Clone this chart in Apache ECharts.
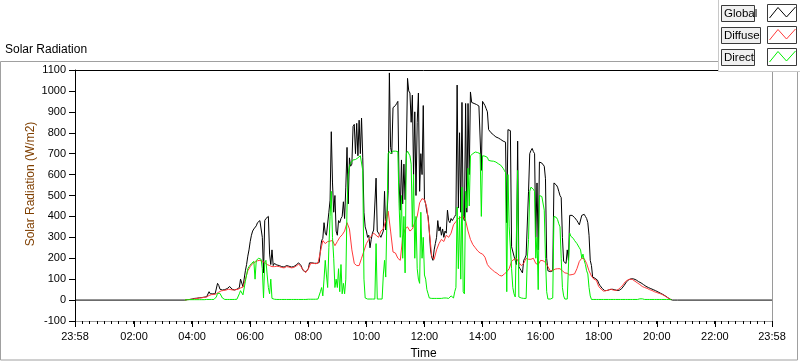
<!DOCTYPE html>
<html>
<head>
<meta charset="utf-8">
<script src="https://cdn.jsdelivr.net/npm/echarts@6/dist/echarts.min.js"></script>
<style>
html,body{margin:0;padding:0;background:#fff;}
#c{width:800px;height:361px;}
</style>
</head>
<body>
<div id="c"></div>
<script>
// Sampling: minutes after midnight of the first sample, and step per series
const START_MIN = 225;      // 03:45
const FINE_STEP = 2.5;      // Global and Direct
const DIFFUSE_STEP = 5;     // Diffuse

// Axis range and tick labels (minutes; -2 = 23:58 of the previous day)
const X_MIN = -2, X_MAX = 1438;
const xTickValues = [-2, 120, 240, 360, 480, 600, 720, 840, 960, 1080, 1200, 1320, 1438];
const yTickLabels = [-100, 0, 100, 200, 300, 400, 500, 600, 700, 800, 900, 1000, 1100];

// Global radiation (W/m2), one row per hour (2.5-minute samples), from 03:45
const globalVals = [
  0, 1, 2, 2, 3, 4,
  5, 6, 8, 8, 9, 10, 11, 11, 12, 12, 14, 15, 16, 18, 40, 30, 28, 30, 28, 30, 32, 80, 70, 52,
  50, 48, 48, 50, 52, 55, 62, 65, 58, 52, 50, 48, 50, 52, 55, 60, 100, 105, 64, 62, 140, 170, 210, 240,
  280, 310, 330, 340, 345, 355, 370, 375, 380, 383, 300, 130, 380, 390, 395, 400, 220, 170, 240, 165, 175, 170, 168, 166,
  165, 163, 160, 159, 158, 160, 165, 164, 162, 160, 158, 157, 160, 162, 168, 172, 178, 176, 165, 150, 140, 135, 134, 135,
  150, 178, 180, 178, 176, 176, 175, 176, 178, 180, 240, 285, 295, 370, 320, 310, 305, 420, 478, 805, 560, 420, 500, 330,
  310, 380, 370, 390, 400, 470, 390, 540, 730, 460, 680, 640, 650, 830, 840, 700, 845, 690, 860, 700, 870, 680, 420, 350,
  330, 300, 310, 250, 290, 320, 335, 340, 583, 330, 320, 310, 300, 305, 330, 520, 335, 400, 523, 1086, 730, 700, 920, 925,
  930, 940, 950, 560, 430, 670, 460, 650, 480, 700, 1060, 1000, 990, 850, 980, 600, 900, 500, 850, 990, 520, 700, 600, 930,
  480, 460, 420, 400, 330, 240, 205, 190, 240, 270, 300, 380, 330, 350, 310, 340, 300, 330, 320, 430, 380, 370, 390, 380,
  390, 400, 410, 1028, 440, 800, 420, 945, 400, 380, 940, 420, 940, 600, 995, 945, 945, 940, 938, 935, 930, 928, 925, 620,
  950, 955, 930, 915, 900, 815, 810, 800, 795, 790, 785, 780, 778, 775, 772, 768, 762, 760, 756, 755, 370, 815, 812, 810,
  255, 250, 210, 190, 170, 760, 160, 150, 140, 130, 190, 200, 215, 220, 520, 700, 715, 725, 710, 700, 300, 560, 240, 660,
  658, 655, 650, 640, 580, 200, 140, 138, 136, 135, 140, 560, 558, 550, 540, 520, 500, 490, 300, 185, 180, 175, 240, 190,
  405, 408, 405, 400, 395, 390, 380, 370, 360, 355, 405, 410, 410, 400, 390, 370, 310, 190, 165, 110, 108, 104, 100, 95,
  80, 70, 62, 55, 50, 45, 45, 46, 48, 50, 50, 52, 55, 50, 48, 46, 45, 47, 50, 55, 62, 70, 78, 88,
  96, 98, 100, 102, 103, 101, 100, 96, 92, 88, 85, 82, 78, 74, 68, 66, 62, 60, 58, 55, 52, 50, 48, 45,
  42, 39, 36, 33, 30, 27, 24, 20, 16, 12, 8, 4, 1, 0, 0, 0, 0, 0, 0
];

// Direct radiation (W/m2), same 2.5-minute samples
const directVals = [
  0, 1, 2, 2, 2, 2,
  2, 2, 2, 2, 2, 2, 2, 2, 2, 2, 2, 2, 3, 3, 3, 3, 3, 3, 3, 3, 15, 32, 33, 32,
  30, 10, 4, 3, 3, 3, 3, 3, 3, 3, 3, 3, 3, 4, 5, 30, 45, 40, 25, 20, 90, 120, 150, 160,
  165, 175, 180, 185, 100, 190, 195, 200, 200, 195, 150, 10, 180, 190, 120, 60, 30, 100, 8, 5, 4, 3, 3, 3,
  3, 3, 3, 3, 3, 3, 3, 3, 3, 3, 3, 3, 3, 3, 3, 3, 3, 3, 3, 3, 3, 3, 3, 3,
  4, 4, 4, 4, 4, 4, 4, 4, 5, 5, 40, 60, 20, 100, 190, 120, 60, 250, 400, 520, 300, 200, 60, 100,
  60, 150, 40, 170, 30, 80, 30, 100, 445, 600, 640, 655, 660, 670, 675, 672, 678, 680, 685, 690, 690, 620, 100, 10,
  5, 5, 5, 5, 5, 5, 5, 5, 270, 5, 5, 5, 5, 5, 120, 190, 110, 400, 700, 710, 700, 705, 712, 712,
  712, 712, 710, 460, 300, 500, 200, 400, 130, 700, 712, 710, 690, 650, 350, 600, 200, 400, 150, 100, 80, 420, 200, 300,
  120, 100, 50, 30, 10, 8, 8, 8, 8, 8, 8, 8, 8, 8, 8, 10, 10, 12, 10, 8, 8, 10, 20, 15,
  10, 40, 60, 445, 150, 400, 100, 540, 40, 30, 520, 440, 630, 450, 690, 690, 700, 705, 708, 710, 705, 700, 700, 400,
  690, 690, 688, 685, 682, 668, 666, 665, 665, 664, 662, 660, 656, 652, 648, 645, 640, 630, 620, 610, 40, 600, 350, 350,
  150, 60, 30, 15, 10, 620, 15, 10, 10, 8, 8, 8, 8, 200, 290, 520, 540, 540, 530, 520, 200, 300, 50, 500,
  500, 495, 490, 430, 200, 40, 5, 5, 5, 5, 10, 400, 400, 395, 385, 365, 350, 200, 60, 20, 5, 5, 5, 10,
  320, 305, 300, 295, 285, 280, 270, 265, 250, 240, 200, 220, 190, 170, 140, 125, 60, 20, 3, 3, 3, 3, 3, 3,
  3, 3, 3, 3, 3, 3, 3, 3, 3, 3, 3, 3, 3, 3, 3, 3, 3, 3, 3, 3, 3, 3, 3, 3,
  3, 3, 3, 3, 3, 3, 3, 3, 3, 3, 6, 10, 6, 3, 3, 3, 3, 3, 3, 3, 3, 3, 3, 3,
  3, 3, 3, 3, 3, 3, 3, 3, 3, 3, 3, 3, 2, null, null, null, null, null, null
];

// Diffuse radiation (W/m2), 5-minute samples from 03:45
const diffuseVals = [
  0, 2, 3,
  4, 6, 8, 10, 11, 13, 15, 22, 26, 27, 30, 38,
  44, 46, 48, 52, 50, 48, 50, 52, 58, 62, 100, 140,
  160, 175, 182, 188, 190, 185, 180, 170, 165, 160, 160, 162,
  160, 156, 154, 160, 158, 154, 156, 163, 172, 160, 142, 132,
  150, 176, 176, 174, 176, 230, 285, 270, 280, 282, 285, 260,
  280, 300, 312, 330, 370, 340, 240, 175, 165, 165, 200, 235,
  270, 290, 305, 320, 310, 300, 330, 340, 380, 425, 330, 230,
  225, 200, 190, 300, 340, 350, 330, 340, 370, 400, 465, 485,
  480, 440, 330, 210, 195, 240, 270, 290, 280, 310, 300, 320,
  360, 375, 390, 395, 400, 380, 330, 290, 265, 250, 235, 225,
  220, 205, 170, 155, 145, 135, 128, 118, 115, 125, 135, 150,
  185, 195, 200, 180, 165, 175, 200, 195, 195, 200, 175, 170,
  190, 188, 180, 160, 140, 142, 148, 150, 150, 140, 130, 128,
  120, 122, 125, 150, 185, 200, 198, 175, 140, 115, 100, 95,
  65, 52, 43, 45, 48, 52, 48, 46, 50, 60, 72, 88,
  96, 100, 98, 90, 82, 74, 65, 60, 56, 50, 46, 40,
  36, 32, 28, 22, 15, 7, 2, null, null, null
];

const seriesNames = ['Global', 'Diffuse', 'Direct'];
const seriesColors = ['#000000', '#ff3b3b', '#00f000'];

function toPairs(vals, step) {
  return vals.map((v, i) => [START_MIN + i * step, v]);
}
const globalData = [[X_MIN, 0]].concat(toPairs(globalVals, FINE_STEP)).concat([[X_MAX, 0]]);
const diffuseData = toPairs(diffuseVals, DIFFUSE_STEP);
const directData = toPairs(directVals, FINE_STEP);

function fmtTime(v) {
  const m = ((Math.round(v) % 1440) + 1440) % 1440;
  const h = Math.floor(m / 60), mm = m % 60;
  return String(h).padStart(2, '0') + ':' + String(mm).padStart(2, '0');
}

const FONT = '"Liberation Sans", Arial, sans-serif';
const chart = echarts.init(document.getElementById('c'), null, {renderer: 'canvas'});

const legendGraphics = [];
const boxW = [33, 39, 33];
seriesNames.forEach((name, k) => {
  const dy = k * 22;
  legendGraphics.push({
    type: 'rect', z: 101,
    shape: {x: 721.5, y: 5.5 + dy, width: boxW[k], height: 16},
    style: {fill: '#f0f0f0', stroke: '#3a3a3a', lineWidth: 1}
  });
  legendGraphics.push({
    type: 'text', z: 102, x: 724, y: 14 + dy,
    style: {text: name, font: '11.5px ' + FONT, fill: '#000', textAlign: 'left', textVerticalAlign: 'middle'}
  });
  legendGraphics.push({
    type: 'rect', z: 101,
    shape: {x: 767.5, y: 4.5 + dy, width: 29, height: 17},
    style: {fill: '#ffffff', stroke: '#3a3a3a', lineWidth: 1}
  });
  legendGraphics.push({
    type: 'polyline', z: 102,
    shape: {points: [[769.5, 18 + dy], [778, 7.5 + dy], [786.5, 17 + dy], [795.5, 7 + dy]]},
    style: {stroke: seriesColors[k], lineWidth: 1, fill: null}
  });
});

const gridBox = {left: 75, right: 28, top: 70, bottom: 40, show: false, outerBoundsMode: 'none', containLabel: false};

const option = {
  animation: false,
  backgroundColor: '#ffffff',
  textStyle: {fontFamily: FONT},
  grid: [Object.assign({}, gridBox), Object.assign({}, gridBox)],
  xAxis: [
    {
      type: 'value', gridIndex: 0, min: X_MIN, max: X_MAX, position: 'bottom',
      axisLine: {show: true, onZero: false, lineStyle: {color: '#9a9a9a', width: 1}},
      axisTick: {show: true, customValues: xTickValues, length: 6, inside: false, lineStyle: {color: '#000', width: 1}},
      axisLabel: {show: true, customValues: xTickValues, formatter: fmtTime, fontSize: 11, color: '#000', margin: 10, fontFamily: FONT},
      splitLine: {show: false},
      name: 'Time', nameLocation: 'middle', nameGap: 27,
      nameTextStyle: {fontSize: 12, color: '#000', fontFamily: FONT}
    },
    {
      type: 'value', gridIndex: 0, min: X_MIN, max: X_MAX, position: 'top',
      axisLine: {show: true, onZero: false, lineStyle: {color: '#000', width: 1}},
      axisTick: {show: false}, axisLabel: {show: false}, splitLine: {show: false}
    },
    {
      // minor ticks every 15 minutes
      type: 'value', gridIndex: 1, min: X_MIN, max: X_MAX, interval: 15, position: 'bottom',
      axisLine: {show: false, onZero: false},
      axisTick: {show: true, length: 3, lineStyle: {color: '#000', width: 1}},
      axisLabel: {show: false},
      splitLine: {show: false}
    }
  ],
  yAxis: [
    {
      type: 'value', gridIndex: 0, min: -100, max: 1100, interval: 100, position: 'left',
      axisLine: {show: true, onZero: false, lineStyle: {color: '#000', width: 1}},
      axisTick: {show: true, length: 6, lineStyle: {color: '#000'}},
      axisLabel: {fontSize: 11, color: '#000', margin: 9, fontFamily: FONT,
                  formatter: v => (yTickLabels.indexOf(v) >= 0 ? String(v) : '')},
      splitLine: {show: false}
    },
    {
      type: 'value', gridIndex: 0, min: -100, max: 1100, position: 'right',
      axisLine: {show: true, onZero: false, lineStyle: {color: '#9a9a9a', width: 1}},
      axisTick: {show: false}, axisLabel: {show: false}, splitLine: {show: false}
    },
    {
      type: 'value', gridIndex: 1, min: -100, max: 1100, show: false
    }
  ],
  series: [
    {name: seriesNames[0], type: 'line', data: globalData, showSymbol: false, symbol: 'none',
     lineStyle: {color: seriesColors[0], width: 1}, itemStyle: {color: seriesColors[0]}, z: 2},
    {name: seriesNames[1], type: 'line', data: diffuseData, showSymbol: false, symbol: 'none',
     lineStyle: {color: seriesColors[1], width: 1}, itemStyle: {color: seriesColors[1]}, z: 3},
    {name: seriesNames[2], type: 'line', data: directData, showSymbol: false, symbol: 'none',
     lineStyle: {color: seriesColors[2], width: 1}, itemStyle: {color: seriesColors[2]}, z: 4}
  ],
  graphic: [
    {type: 'rect', z: 50, shape: {x: 0.5, y: 61.5, width: 797, height: 298.5},
     style: {fill: null, stroke: '#a0a0a0', lineWidth: 1}},
    {type: 'text', z: 60, x: 5, y: 50,
     style: {text: 'Solar Radiation', font: '12px ' + FONT, fill: '#000', textAlign: 'left', textVerticalAlign: 'middle'}},
    {type: 'text', z: 60, x: 31, y: 184, rotation: Math.PI / 2,
     style: {text: 'Solar Radiation (W/m2)', font: '12px ' + FONT, fill: '#7f3f00', textAlign: 'center', textVerticalAlign: 'middle'}},
    {type: 'rect', z: 100, shape: {x: 718.5, y: -1, width: 83, height: 72.5},
     style: {fill: '#ffffff', stroke: '#c8c8c8', lineWidth: 1}}
  ].concat(legendGraphics)
};
chart.setOption(option);
</script>
</body>
</html>
